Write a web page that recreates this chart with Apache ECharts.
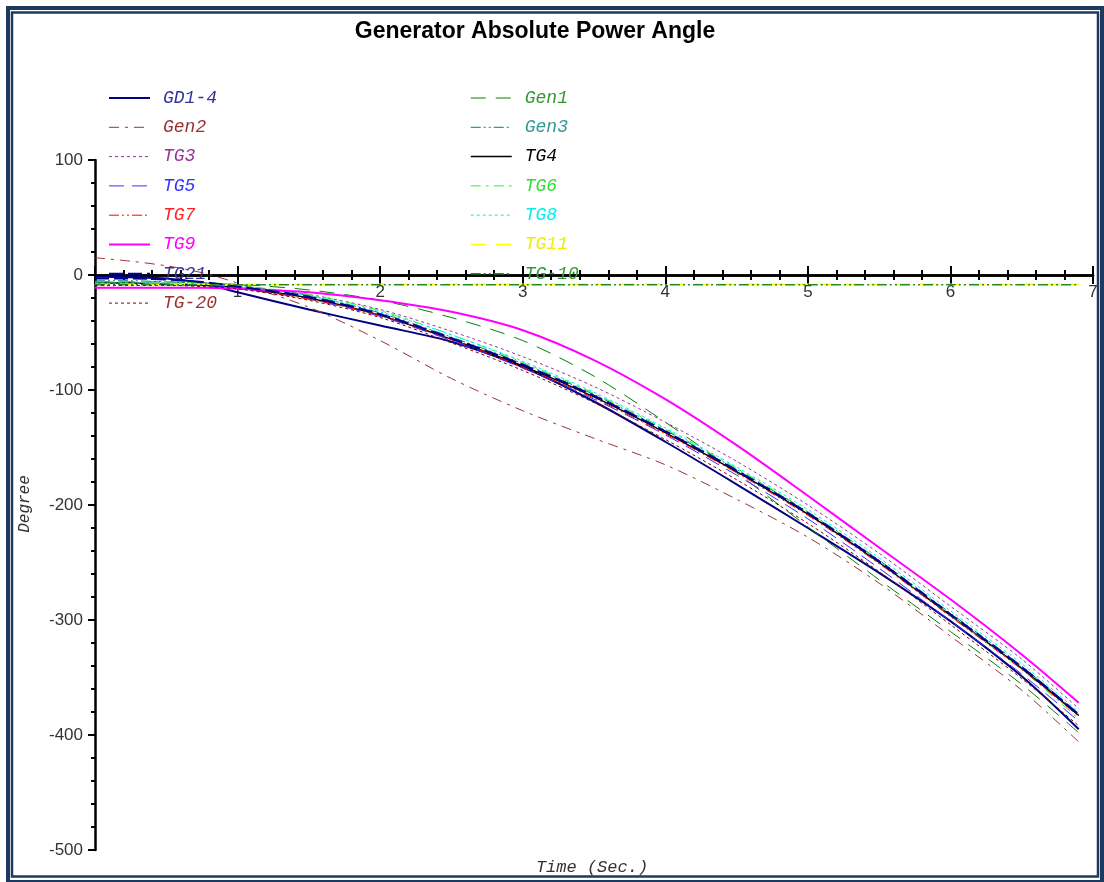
<!DOCTYPE html>
<html>
<head>
<meta charset="utf-8">
<script src="https://cdn.jsdelivr.net/npm/echarts@6/dist/echarts.min.js"></script>
<style>
html,body{margin:0;padding:0;background:#fff;}
#chart{width:1104px;height:882px;}
</style>
</head>
<body>
<div id="chart"></div>
<script>
// ---- data ----
const time = [0, 0.25, 0.5, 0.75, 1, 1.5, 2, 2.5, 3, 3.5, 4, 4.5, 5, 5.5, 6, 6.5, 6.9];

const gd1_4 = [-1.5, -2, -3, -7, -15, -30, -44, -58, -80, -110, -145, -182, -220, -259, -301, -349, -395];
const gen1  = [-6, -6, -6, -7, -8, -13, -22, -37, -57, -88, -128, -172, -219, -265, -310, -356, -398];
const gen2  = [15, 12, 8, 2, -7, -28, -57, -90, -118, -142, -165, -195, -228, -268, -314, -361, -406];
const gen3  = [-5, -5, -6, -7, -9, -18, -33, -54, -77, -104, -135, -169, -206, -248, -294, -340, -382];
const tg3   = [-7, -7, -7, -8, -10, -17, -30, -49, -71, -97, -128, -162, -200, -242, -288, -334, -377];
const tg4   = [-7, -7, -8, -9, -11, -20, -35, -56, -79, -106, -137, -171, -208, -250, -296, -342, -383];
const tg5   = [-8, -8, -8, -9, -11, -21, -36, -57, -81, -108, -139, -174, -212, -255, -301, -347, -388];
const tg6   = [-6, -6, -6, -7, -9, -17, -31, -52, -76, -103, -134, -168, -206, -249, -296, -343, -386];
const tg7   = [-11, -11, -11, -11, -12, -21, -35, -56, -80, -107, -138, -172, -209, -251, -297, -343, -384];
const tg8   = [-7, -7, -7, -8, -10, -18, -32, -52, -75, -102, -133, -167, -204, -246, -292, -338, -380];
const tg9   = [-11, -11, -11, -11, -12, -15, -22, -32, -48, -74, -108, -148, -192, -237, -282, -330, -372];
const tg11  = [-8, -8, -8, -8, -8, -8, -8, -8, -8, -8, -8, -8, -8, -8, -8, -8, -8];
const tg21  = [-3, -3, -4, -6, -10, -19, -34, -55, -78, -105, -136, -170, -207, -249, -295, -341, -382];
const tg_10 = [-8.5, -8.5, -8.5, -8.5, -8.5, -8.5, -8.5, -8.5, -8.5, -8.5, -8.5, -8.5, -8.5, -8.5, -8.5, -8.5, -8.5];
const tg_20 = [-9, -9, -9, -10, -12, -22, -37, -59, -83, -111, -143, -178, -216, -258, -304, -351, -392];

const seriesNames = ['GD1-4','Gen1','Gen2','Gen3','TG3','TG4','TG5','TG6','TG7','TG8','TG9','TG11','TG21','TG-10','TG-20'];
const seriesValues = [gd1_4, gen1, gen2, gen3, tg3, tg4, tg5, tg6, tg7, tg8, tg9, tg11, tg21, tg_10, tg_20];
const legendLeftNames  = ['GD1-4','Gen2','TG3','TG5','TG7','TG9','TG21','TG-20'];
const legendRightNames = ['Gen1','Gen3','TG4','TG6','TG8','TG11','TG-10'];
const xTicks = [0, 1, 2, 3, 4, 5, 6, 7];
const yTicks = [-500, -400, -300, -200, -100, 0, 100];

// ---- styles ----
const styles = {
  'GD1-4': {color:'#000080', width:2,   type:'solid'},
  'Gen1':  {color:'#008000', width:1,   type:[15,10]},
  'Gen2':  {color:'#993333', width:1,   type:[10,6,3,6]},
  'Gen3':  {color:'#008080', width:1,   type:[10,3,2,3,2,3]},
  'TG3':   {color:'#993399', width:1,   type:[3,3]},
  'TG4':   {color:'#000000', width:1.5, type:'solid'},
  'TG5':   {color:'#3333ff', width:1,   type:[15,8]},
  'TG6':   {color:'#33ee33', width:1,   type:[10,5,3,5]},
  'TG7':   {color:'#ff0000', width:1,   type:[10,3,2,3,2,3]},
  'TG8':   {color:'#00eeee', width:1,   type:[3,3]},
  'TG9':   {color:'#ff00ff', width:2,   type:'solid'},
  'TG11':  {color:'#ffff00', width:1.5, type:[15,10]},
  'TG21':  {color:'#000099', width:2,   type:[14,5]},
  'TG-10': {color:'#228b22', width:1.5, type:[10,3,2,3,2,3]},
  'TG-20': {color:'#800000', width:1,   type:[3,3]}
};
const textColors = {
  'GD1-4':'#333399','Gen1':'#339933','Gen2':'#993333','Gen3':'#339999','TG3':'#993399',
  'TG4':'#000000','TG5':'#3333ff','TG6':'#33dd33','TG7':'#ff2222','TG8':'#00eeee',
  'TG9':'#ff00ff','TG11':'#eeee00','TG21':'#333399','TG-10':'#339933','TG-20':'#993333'
};

const series = seriesNames.map((name, i) => ({
  name: name,
  type: 'line',
  xAxisIndex: 0,
  yAxisIndex: 0,
  data: time.map((t, k) => [t, seriesValues[i][k]]),
  smooth: 0.3,
  symbol: 'none',
  lineStyle: {color: styles[name].color, width: styles[name].width, type: styles[name].type},
  itemStyle: {color: styles[name].color},
  emphasis: {disabled: true},
  z: 3
}));

function legendData(names){
  return names.map(n => ({name: n, textStyle: {color: textColors[n]}}));
}
const legendCommon = {
  orient: 'vertical',
  top: 89,
  padding: 0,
  itemWidth: 41,
  itemHeight: 14,
  itemGap: 11.3,
  selectedMode: false,
  itemStyle: {opacity: 0},
  lineStyle: {width: 'inherit'},
  textStyle: {fontFamily: '"Liberation Mono", "Courier New", monospace', fontStyle: 'italic', fontSize: 18, lineHeight: 18, padding: [0,0,0,8]}
};

const axisFont = {fontFamily: '"Liberation Sans", Arial, sans-serif', fontSize: 17, color: '#333'};

// grid: top 160, bottom edge 850 -> zero line at 160 + 100*(690/600)
const gridTop = 160, gridBottom = 32, chartH = 882;
const plotH = chartH - gridTop - gridBottom;
const zeroY = gridTop + (yTicks[yTicks.length-1] / (yTicks[yTicks.length-1] - yTicks[0])) * plotH;

const chart = echarts.init(document.getElementById('chart'), null, {renderer: 'canvas'});
chart.setOption({
  animation: false,
  backgroundColor: '#ffffff',
  grid: {left: 95, right: 11, top: gridTop, bottom: gridBottom, containLabel: false},
  legend: [
    Object.assign({}, legendCommon, {left: 108, data: legendData(legendLeftNames)}),
    Object.assign({}, legendCommon, {left: 470, data: legendData(legendRightNames)})
  ],
  xAxis: [{
    type: 'value', min: xTicks[0], max: xTicks[xTicks.length-1], interval: 1,
    position: 'bottom',
    offset: -(chartH - gridBottom - zeroY),
    axisLine: {show: true, onZero: false, lineStyle: {color: '#000', width: 2.5}},
    axisTick: {show: true, inside: false, length: 9, lineStyle: {color: '#000', width: 2}},
    minorTick: {show: true, splitNumber: 5, length: 5, lineStyle: {color: '#000', width: 2}},
    axisLabel: Object.assign({margin: 9, showMinLabel: false, formatter: v => (v === 0 ? '' : String(v))}, axisFont),
    splitLine: {show: false}
  }, {
    type: 'value', min: xTicks[0], max: xTicks[xTicks.length-1], interval: 1,
    position: 'top',
    offset: -(zeroY - gridTop),
    axisLine: {show: true, onZero: false, lineStyle: {color: '#000', width: 2.5}},
    axisTick: {show: true, inside: false, length: 9, lineStyle: {color: '#000', width: 2}},
    minorTick: {show: true, splitNumber: 5, length: 5, lineStyle: {color: '#000', width: 2}},
    axisLabel: {show: false},
    splitLine: {show: false}
  }],
  yAxis: [{
    type: 'value', min: yTicks[0], max: yTicks[yTicks.length-1], interval: 100,
    axisLine: {show: true, onZero: false, lineStyle: {color: '#000', width: 2.5}},
    axisTick: {show: true, inside: false, length: 7, lineStyle: {color: '#000', width: 2}},
    minorTick: {show: true, splitNumber: 5, length: 4, lineStyle: {color: '#000', width: 2}},
    axisLabel: Object.assign({margin: 12}, axisFont),
    splitLine: {show: false}
  }],
  graphic: [
    {type: 'rect', z: 100, silent: true, shape: {x: 8, y: 8, width: 1094, height: 874},
     style: {fill: 'none', stroke: '#1c3a5e', lineWidth: 4}},
    {type: 'rect', z: 100, silent: true, shape: {x: 12, y: 12.5, width: 1086, height: 864},
     style: {fill: 'none', stroke: '#1c3a5e', lineWidth: 2.5}},
    {type: 'text', z: 100, silent: true, x: 535, y: 32,
     style: {text: 'Generator Absolute Power Angle', align: 'center', verticalAlign: 'middle',
             font: 'bold 23px "Liberation Sans", Arial, sans-serif', fill: '#000'}},
    {type: 'text', z: 100, silent: true, x: 592, y: 867,
     style: {text: 'Time (Sec.)', align: 'center', verticalAlign: 'middle',
             font: 'italic 17px "Liberation Mono", "Courier New", monospace', fill: '#333'}},
    {type: 'text', z: 100, silent: true, x: 25, y: 504, rotation: Math.PI/2,
     style: {text: 'Degree', align: 'center', verticalAlign: 'middle',
             font: 'italic 16px "Liberation Mono", "Courier New", monospace', fill: '#333'}}
  ],
  series: series
});
</script>
</body>
</html>
